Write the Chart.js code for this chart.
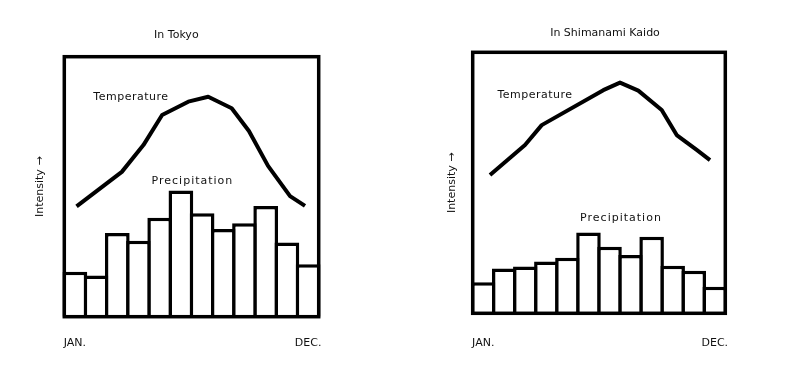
<!DOCTYPE html>
<html>
<head>
<meta charset="utf-8">
<script src="https://cdn.jsdelivr.net/npm/chart.js@4.4.1/dist/chart.umd.min.js"></script>
<style>
  html, body { margin: 0; padding: 0; background: #fff; }
  #wrap { position: relative; width: 800px; height: 382px; }
  canvas { position: absolute; top: 0; }
</style>
</head>
<body>
<div id="wrap">
  <canvas id="c1" width="400" height="382" style="left:0"></canvas>
  <canvas id="c2" width="400" height="382" style="left:400px"></canvas>
</div>
<script>
// ---- data (intensity, arbitrary 0-100 scale) ----
const months = ['JAN.','FEB.','MAR.','APR.','MAY','JUN.','JUL.','AUG.','SEP.','OCT.','NOV.','DEC.'];
const shownTicks = ['JAN.', 'DEC.'];

const tokyoPrecip = [17.3, 15.8, 32.2, 29.2, 38.1, 48.5, 39.8, 33.7, 35.9, 42.6, 28.5, 20.2];
const tokyoTempX  = [0, 2.18, 3.22, 4.12, 5.38, 6.34, 7.47, 8.30, 9.22, 10.28, 11];
const tokyoTempY  = [42.4, 55.7, 66.0, 77.6, 82.7, 84.6, 80.2, 71.4, 58.0, 46.4, 42.6];

const shimaPrecip = [11.9, 17.2, 17.9, 19.8, 21.3, 31.0, 25.5, 22.3, 29.3, 18.2, 16.3, 10.2];
const shimaTempX  = [0, 1.75, 2.585, 5.665, 6.5, 7.415, 8.585, 9.335, 10.335, 11];
const shimaTempY  = [53.0, 64.5, 72.1, 85.5, 88.4, 85.3, 77.9, 68.3, 62.6, 58.7];

const FONT = "'DejaVu Sans', sans-serif";
const INK = '#111';

const framePlugin = {
  id: 'frame',
  afterDatasetsDraw(chart) {
    const a = chart.chartArea, ctx = chart.ctx;
    ctx.save();
    ctx.lineWidth = 3.5;
    ctx.strokeStyle = '#000';
    ctx.lineJoin = 'miter';
    ctx.strokeRect(a.left, a.top, a.right - a.left, a.bottom - a.top);
    ctx.restore();
  }
};

const notesPlugin = {
  id: 'notes',
  afterDraw(chart, args, opts) {
    const ctx = chart.ctx, xs = chart.scales.x2, ys = chart.scales.y;
    ctx.save();
    ctx.font = '11px ' + FONT;
    ctx.fillStyle = INK;
    ctx.textAlign = 'center';
    ctx.textBaseline = 'middle';
    (opts.items || []).forEach(it => {
      ctx.letterSpacing = it.ls || '0px';
      ctx.fillText(it.text, xs.getPixelForValue(it.x), ys.getPixelForValue(it.y));
    });
    ctx.restore();
  }
};

function makeChart(id, p) {
  const scales = {
    x: {
      type: 'category',
      offset: true,
      grid: { display: false, drawTicks: false },
      border: { display: false },
      ticks: {
        autoSkip: false, maxRotation: 0, padding: p.tickPad, color: INK,
        font: { family: FONT, size: 11 },
        callback: (v, i) => (i === 0 ? shownTicks[0] : (i === months.length - 1 ? shownTicks[1] : ''))
      },
      afterFit: s => { s.height = p.xH; }
    },
    x2: {
      type: 'linear', display: false, offset: false, min: p.x2min, max: p.x2max,
      grid: { offset: false }
    },
    y: {
      min: 0, max: 100,
      grid: { display: false, drawTicks: false },
      border: { display: false },
      ticks: { display: false },
      title: {
        display: true, text: 'Intensity →', color: INK,
        font: { family: FONT, size: 11 }, padding: { top: p.yTitlePad, bottom: 0 }
      },
      afterFit: s => { s.width = p.yW; }
    }
  };
  if (p.rW) {
    scales.yR = {
      position: 'right', display: true,
      grid: { display: false, drawTicks: false },
      border: { display: false },
      ticks: { display: false },
      afterFit: s => { s.width = p.rW; }
    };
  }
  return new Chart(document.getElementById(id), {
    type: 'bar',
    data: {
      labels: months,
      datasets: [
        {
          type: 'bar',
          label: 'Precipitation',
          data: p.precip,
          xAxisID: 'x', yAxisID: 'y',
          backgroundColor: '#fff', borderColor: '#000', borderWidth: 3.5,
          borderSkipped: 'start', grouped: false,
          barPercentage: 1.166, categoryPercentage: 1,
          clip: false, order: 1
        },
        {
          type: 'line',
          label: 'Temperature',
          data: p.tx.map((x, i) => ({ x: x, y: p.ty[i] })),
          xAxisID: 'x2', yAxisID: 'y',
          borderColor: '#000', borderWidth: 4, pointRadius: 0,
          tension: 0, fill: false, borderJoinStyle: 'round', borderCapStyle: 'butt',
          clip: false, order: 0
        }
      ]
    },
    options: {
      responsive: false,
      animation: false,
      devicePixelRatio: 1,
      layout: { padding: { left: p.padL, right: p.padR, top: 0, bottom: 0 } },
      plugins: {
        legend: { display: false },
        tooltip: { enabled: false },
        title: {
          display: true, text: p.title, color: INK,
          font: { family: FONT, size: 11, weight: 'normal' },
          padding: { top: p.tTop, bottom: p.tBot }
        },
        notes: { items: p.notes }
      },
      scales: scales
    },
    plugins: [framePlugin, notesPlugin]
  });
}

makeChart('c1', {
  title: 'In Tokyo',
  precip: tokyoPrecip, tx: tokyoTempX, ty: tokyoTempY,
  padL: 34, padR: 81.3, yW: 30.3, rW: 0, yTitlePad: 0,
  tTop: 28.4, tBot: 15.1, xH: 65.3, tickPad: 19.4,
  x2min: -0.59, x2max: 11.66,
  notes: [
    { text: 'Temperature', x: 2.62, y: 84.5, ls: '0.5px' },
    { text: 'Precipitation', x: 5.58, y: 52.2, ls: '1px' }
  ]
});

makeChart('c2', {
  title: 'In Shimanami Kaido',
  precip: shimaPrecip, tx: shimaTempX, ty: shimaTempY,
  padL: 10, padR: 0, yW: 62.7, rW: 74.7, yTitlePad: 36,
  tTop: 26.7, tBot: 12.4, xH: 68.7, tickPad: 22.8,
  x2min: -0.865, x2max: 11.765,
  notes: [
    { text: 'Temperature', x: 2.25, y: 83.6, ls: '0.5px' },
    { text: 'Precipitation', x: 6.55, y: 36.5, ls: '1px' }
  ]
});
</script>
</body>
</html>
